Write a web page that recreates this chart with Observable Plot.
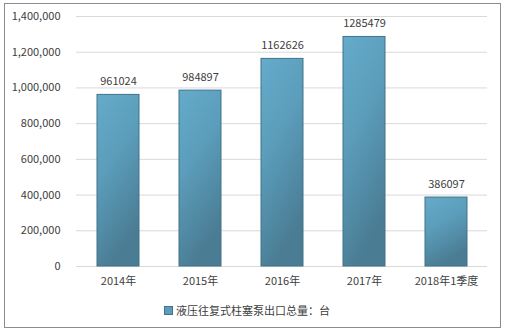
<!DOCTYPE html>
<html>
<head>
<meta charset="utf-8">
<script src="https://cdn.jsdelivr.net/npm/d3@7"></script>
<script src="https://cdn.jsdelivr.net/npm/@observablehq/plot@0.6"></script>
<style>
  html, body { margin: 0; padding: 0; background: #fff; }
  #frame { position: absolute; left: 4px; top: 3px; width: 497px; height: 325px; border: 1px solid #8c8c8c; box-sizing: border-box; }
  #chart { position: absolute; left: 0; top: 0; }
  #legend { position: absolute; left: 164px; top: 302px; font: 11px "Noto Sans CJK SC", sans-serif; color: #404040; display: flex; align-items: center; }
  #legend .sw { width: 7px; height: 7px; background: #5b9cba; border: 0.5px solid #41728a; margin-right: 3px; }
</style>
</head>
<body>
<div id="frame"></div>
<div id="chart"></div>
<div id="legend"><span class="sw"></span><span id="legend-text"></span></div>
<script>
const categories = ["2014年", "2015年", "2016年", "2017年", "2018年1季度"];
const values = [961024, 984897, 1162626, 1285479, 386097];
const yTicks = [0, 200000, 400000, 600000, 800000, 1000000, 1200000, 1400000];
const seriesName = "液压往复式柱塞泵出口总量：台";

const data = categories.map((c, i) => ({category: c, value: values[i]}));
const font = '"Noto Sans CJK SC", sans-serif';

const chart = Plot.plot({
  width: 507,
  height: 300,
  marginLeft: 76,
  marginRight: 20,
  marginTop: 16,
  marginBottom: 34,
  style: {fontFamily: font, fontSize: "11px", color: "#404040", background: "transparent"},
  x: {domain: categories, paddingInner: 0.49, paddingOuter: 0.245, label: null, tickSize: 0, tickPadding: 11},
  y: {domain: [0, 1400000], ticks: yTicks, label: null, tickSize: 0, tickPadding: 16,
      tickFormat: d => d3.format(",")(d)},
  marks: [
    Plot.gridY(yTicks, {stroke: "#d9d9d9", strokeOpacity: 1}),
    Plot.barY(data, {x: "category", y: "value", fill: "url(#barGrad)", stroke: "#41728a", strokeWidth: 1}),
    Plot.text(data, {x: "category", y: "value", text: d => String(d.value), dy: -13, fill: "#404040", fontSize: 11})
  ]
});

const ns = "http://www.w3.org/2000/svg";
const defs = document.createElementNS(ns, "defs");
defs.innerHTML = `
  <linearGradient id="barGrad" x1="0" y1="0" x2="0.35" y2="1">
    <stop offset="0" stop-color="#65abca"/>
    <stop offset="0.45" stop-color="#5b9dbb"/>
    <stop offset="1" stop-color="#4a7c93"/>
  </linearGradient>`;
chart.insertBefore(defs, chart.firstChild);

document.getElementById("chart").appendChild(chart);
document.getElementById("legend-text").textContent = seriesName;
</script>
</body>
</html>
